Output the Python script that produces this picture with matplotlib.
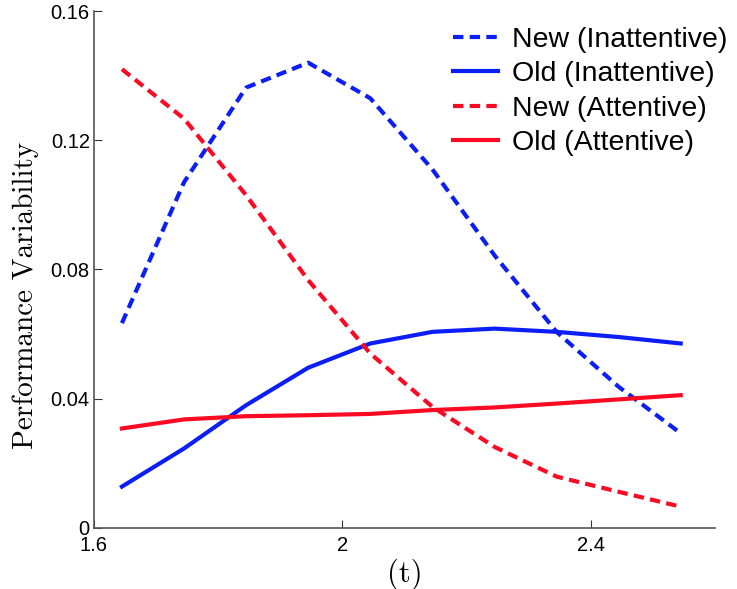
import numpy as np
import matplotlib
matplotlib.use("Agg")
import matplotlib.pyplot as plt

# values
t = [1.645, 1.745, 1.845, 1.945, 2.045, 2.145, 2.245, 2.345, 2.445, 2.545]
new_inatt = [0.0634, 0.107, 0.1363, 0.144, 0.133, 0.111, 0.0844, 0.0607, 0.0437, 0.0293]
old_inatt = [0.0128, 0.0246, 0.038, 0.0496, 0.0571, 0.0607, 0.0617, 0.0607, 0.0591, 0.0571]
new_att = [0.142, 0.1267, 0.103, 0.0767, 0.054, 0.0375, 0.0251, 0.0159, 0.0112, 0.0066]
old_att = [0.0308, 0.0336, 0.0346, 0.0349, 0.0353, 0.0365, 0.0373, 0.0385, 0.0398, 0.0411]

labels = ["New (Inattentive)", "Old (Inattentive)", "New (Attentive)", "Old (Attentive)"]
xticks = [1.6, 2, 2.4]
yticks = [0, 0.04, 0.08, 0.12, 0.16]

plt.rcParams["font.family"] = ["Liberation Sans", "DejaVu Sans"]

fig = plt.figure(figsize=(7.37, 5.89), dpi=100)
ax = fig.add_axes([0.1275, 0.1036, 0.8425, 0.8777])

blue, red = "#0a1ef5", "#fa0a23"
dash = (0, (2.5, 1.5))
ax.plot(t, new_inatt, color=blue, lw=3, linestyle=dash, label=labels[0])
ax.plot(t, old_inatt, color=blue, lw=3, label=labels[1])
ax.plot(t, new_att, color=red, lw=3, linestyle=dash, label=labels[2])
ax.plot(t, old_att, color=red, lw=3, label=labels[3])

ax.set_xlim(1.6, 2.6)
ax.set_ylim(0, 0.16)
ax.set_xticks(xticks)
ax.set_xticklabels(["1.6", "2", "2.4"])
ax.set_yticks(yticks)
ax.set_yticklabels(["0", "0.04", "0.08", "0.12", "0.16"])
ax.tick_params(direction="in", length=6, labelsize=14.5, color="#333333")
ax.tick_params(axis="y", pad=3)
ax.tick_params(axis="x", pad=6)
for s in ["top", "right"]:
    ax.spines[s].set_visible(False)
for s in ["left", "bottom"]:
    ax.spines[s].set_color("#555555")
    ax.spines[s].set_linewidth(1.2)

ax.set_ylabel("Performance Variability", family="cmr10", fontsize=21)
ax.yaxis.set_label_coords(-0.088, 0.45)
ax.set_xlabel("(t)", family="cmr10", fontsize=22, labelpad=2)

ax.legend(loc="upper left", bbox_to_anchor=(0.578, 0.97), frameon=False,
          fontsize=20.5, handlelength=1.58, handletextpad=0.5, labelspacing=0.3,
          borderaxespad=0, borderpad=0)

fig.savefig("out.png", dpi=100)
